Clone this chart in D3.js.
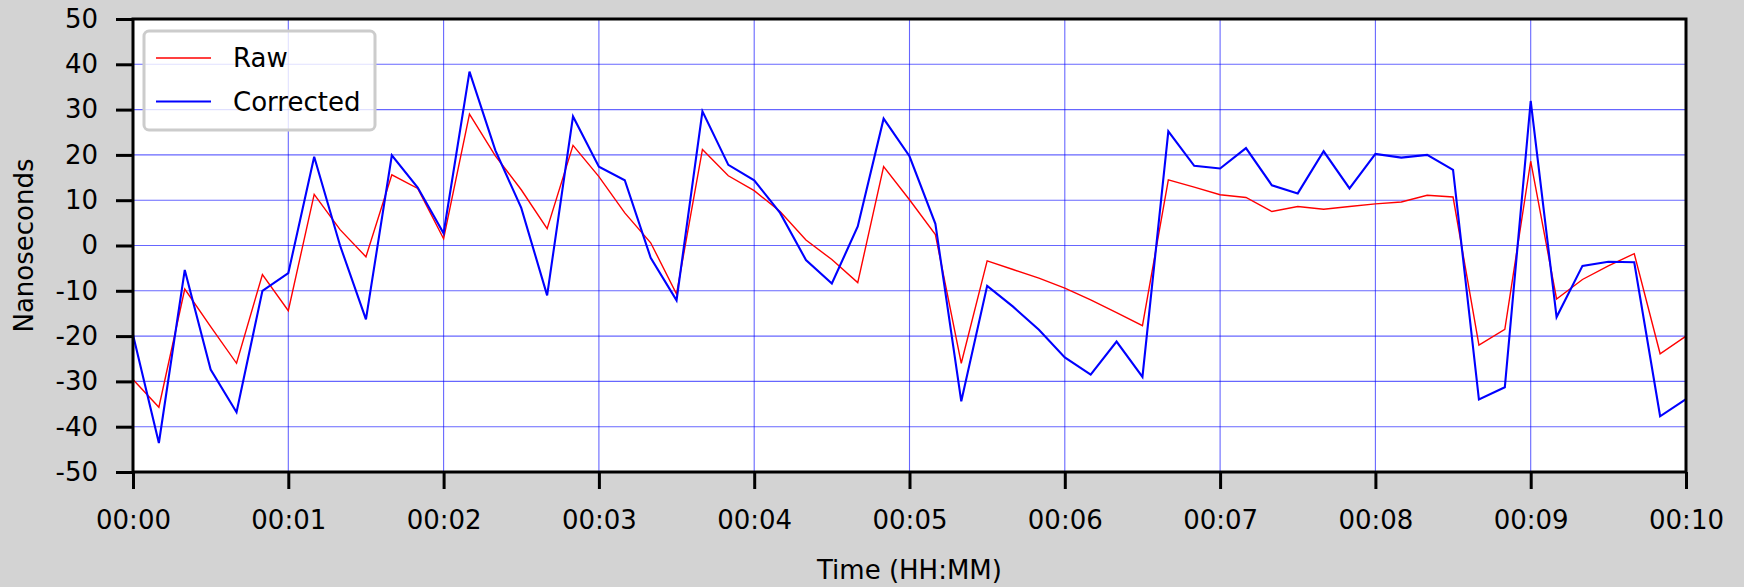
<!DOCTYPE html>
<html>
<head>
<meta charset="utf-8">
<script src="https://cdn.jsdelivr.net/npm/d3@7"></script>
<style>
  body { margin: 0; background: #d3d3d3; }
  svg { display: block; font-family: "DejaVu Sans", sans-serif; }
</style>
</head>
<body>
<svg id="chart" width="1744" height="587"></svg>
<script>
// seconds since start, one sample every 10 s
var seconds = d3.range(0, 601, 10);

var raw = [-29.6, -35.7, -9.6, -17.9, -26, -6.4, -14.4, 11.3, 3.5, -2.5,
    15.6, 12.6, 1.5, 29, 19.8, 12.3, 3.7, 22.1, 15.2, 7.2,
    0.6, -10.7, 21.2, 15.4, 12.1, 7.5, 1.2, -3.1, -8.2, 17.4,
    10.1, 2.4, -26, -3.4, -5.3, -7.2, -9.4, -12.0, -14.8, -17.7,
    14.5, 12.9, 11.2, 10.6, 7.5, 8.6, 8.0, 8.6, 9.2, 9.6,
    11.1, 10.7, -22.0, -18.5, 18.6, -11.8, -7.5, -4.5, -1.8, -23.9,
    -20];

var corrected = [-19.7, -43.6, -5.4, -27.4, -36.8, -10, -6.1, 19.6, 0, -16.3,
    19.9, 12.8, 2.7, 38.4, 21, 8.3, -11, 28.5, 17.4, 14.4,
    -2.7, -12.1, 29.6, 17.8, 14.4, 7.2, -3.2, -8.4, 4.2, 28,
    19.7, 4.8, -34.4, -8.9, -13.5, -18.6, -24.7, -28.5, -21.2, -29.0,
    25.2, 17.6, 17, 21.5, 13.3, 11.5, 20.8, 12.6, 20.2, 19.4,
    20.0, 16.7, -34.0, -31.3, 31.9, -15.8, -4.5, -3.6, -3.7, -37.7,
    -33.9];

var xTicks = d3.range(0, 601, 60);
var yTicks = d3.range(-50, 51, 10);

var series = [
    {name: "Raw", values: raw, color: "red", width: 1.4},
    {name: "Corrected", values: corrected, color: "blue", width: 2.1}
];

var svg = d3.select("#chart");
var margin = {left: 133, right: 58, top: 19, bottom: 115};
var width = 1744 - margin.left - margin.right,
    height = 587 - margin.top - margin.bottom;

var x = d3.scaleLinear().domain([0, 600]).range([0, width]);
var y = d3.scaleLinear().domain([-50, 50]).range([height, 0]);

var g = svg.append("g").attr("transform", "translate(" + margin.left + "," + margin.top + ")");

g.append("rect").attr("width", width).attr("height", height).attr("fill", "white");

// grid
g.append("g").selectAll("line").data(yTicks.slice(1, -1)).enter().append("line")
    .attr("x1", 0).attr("x2", width)
    .attr("y1", d => y(d)).attr("y2", d => y(d))
    .attr("stroke", "blue").attr("stroke-opacity", 0.6).attr("stroke-width", 1.1);
g.append("g").selectAll("line").data(xTicks.slice(1, -1)).enter().append("line")
    .attr("y1", 0).attr("y2", height)
    .attr("x1", d => x(d)).attr("x2", d => x(d))
    .attr("stroke", "blue").attr("stroke-opacity", 0.6).attr("stroke-width", 1.1);

// lines
var line = d3.line();
series.forEach(function(s) {
    g.append("path")
        .attr("d", line(seconds.map((t, i) => [x(t), y(s.values[i])])))
        .attr("fill", "none")
        .attr("stroke", s.color)
        .attr("stroke-width", s.width)
        .attr("stroke-linejoin", "miter");
});

// axes
function fmt(t) {
    return "00:" + d3.format("02d")(t / 60);
}
var xAxis = g.append("g").attr("transform", "translate(0," + height + ")")
    .call(d3.axisBottom(x).tickValues(xTicks).tickFormat(fmt).tickSize(17).tickPadding(22));
var yAxis = g.append("g")
    .call(d3.axisLeft(y).tickValues(yTicks).tickFormat(d => String(d)).tickSize(17).tickPadding(18));

[xAxis, yAxis].forEach(function(a) {
    a.select(".domain").remove();
    a.selectAll(".tick line").attr("stroke", "black").attr("stroke-width", 3);
    a.selectAll(".tick text").attr("fill", "black")
        .style("font-size", "26px").style("font-family", "DejaVu Sans");
});

g.append("rect").attr("width", width).attr("height", height)
    .attr("fill", "none").attr("stroke", "black").attr("stroke-width", 3);

// axis labels
svg.append("text")
    .attr("x", margin.left + width / 2).attr("y", 579)
    .attr("text-anchor", "middle")
    .style("font-size", "26px")
    .text("Time (HH:MM)");

svg.append("text")
    .attr("transform", "translate(33," + (margin.top + height / 2) + ") rotate(-90)")
    .attr("text-anchor", "middle")
    .style("font-size", "26px")
    .text("Nanoseconds");

// legend
var legend = g.append("g").attr("transform", "translate(11,12)");
legend.append("rect")
    .attr("width", 231).attr("height", 99).attr("rx", 5)
    .attr("fill", "white").attr("fill-opacity", 0.8)
    .attr("stroke", "#cccccc").attr("stroke-width", 3);
legend.selectAll("line").data(series).enter().append("line")
    .attr("x1", 12).attr("x2", 67)
    .attr("y1", (d, i) => 27 + i * 43.5).attr("y2", (d, i) => 27 + i * 43.5)
    .attr("stroke", d => d.color).attr("stroke-width", d => d.width);
legend.selectAll("text").data(series).enter().append("text")
    .attr("x", 89)
    .attr("y", (d, i) => 27 + i * 43.5)
    .attr("dy", "0.35em")
    .style("font-size", "26px")
    .text(d => d.name);
</script>
</body>
</html>
